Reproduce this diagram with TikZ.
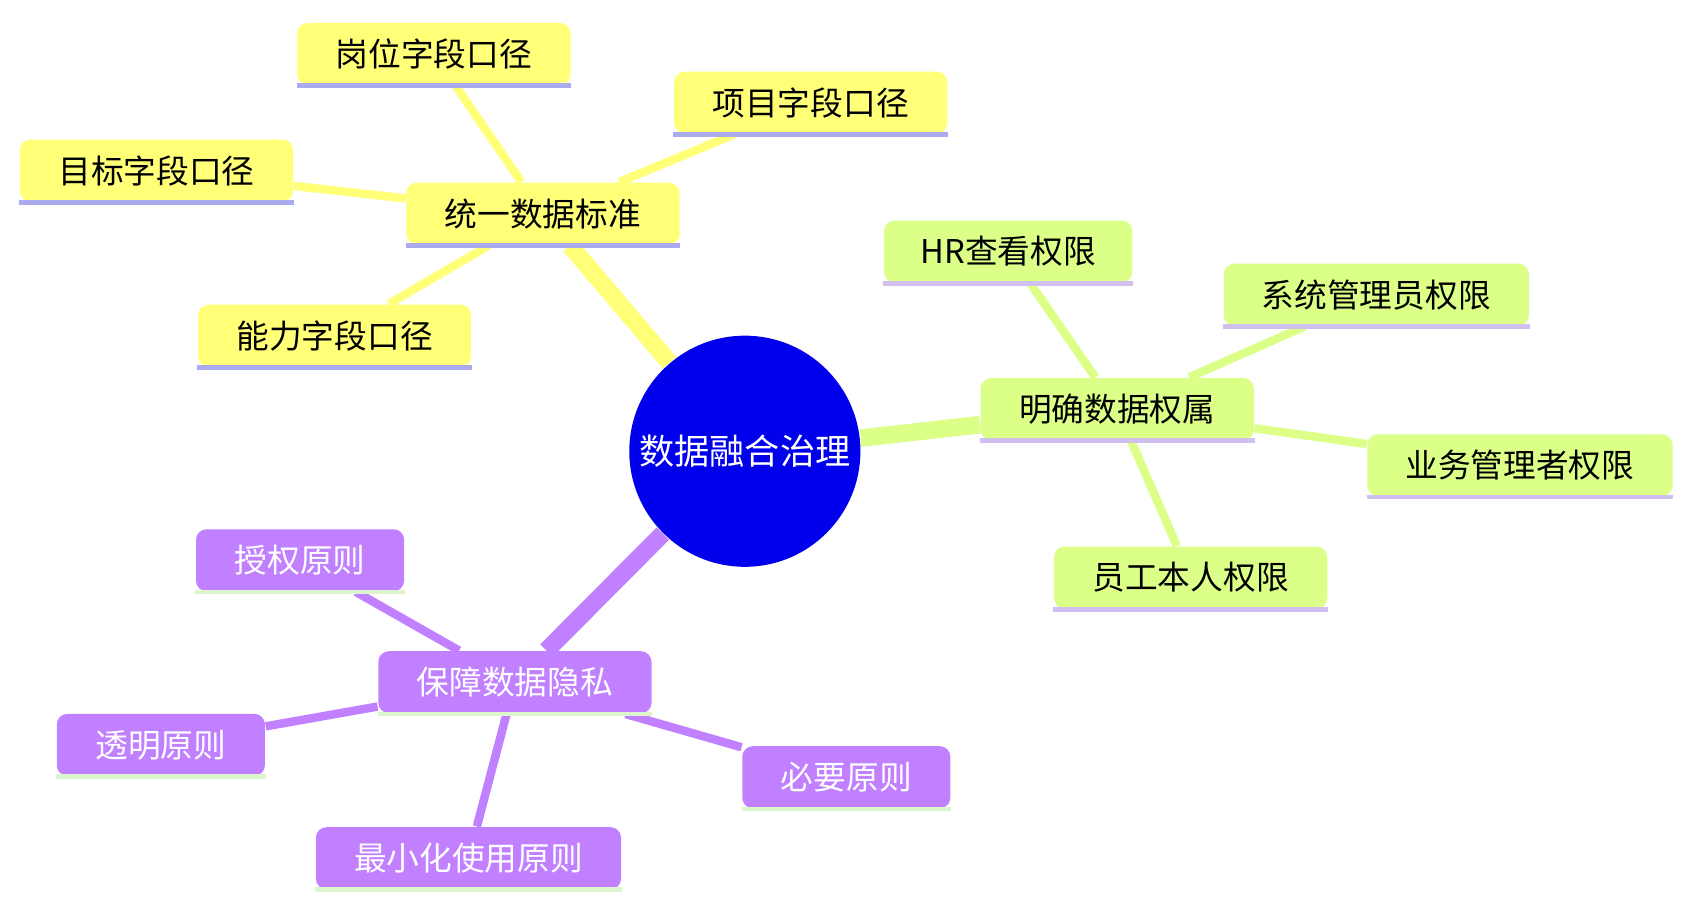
\documentclass[tikz,border=0pt]{standalone}
\usepackage{fontspec}
\setmainfont{Noto Sans CJK SC}
\usetikzlibrary{backgrounds}
\definecolor{yel}{HTML}{FFFF78}
\definecolor{grn}{HTML}{DCFF88}
\definecolor{pur}{HTML}{C080FF}
\definecolor{lav}{HTML}{AAAAEE}
\definecolor{lavg}{HTML}{D0C0F0}
\definecolor{lgrn}{HTML}{DDF5CC}
\tikzset{
  leaf/.style={rounded corners=3pt, minimum height=0.62cm, inner sep=0pt, font=\fontsize{9.3}{11}\selectfont},
  yleaf/.style={leaf, fill=yel, text=black},
  gleaf/.style={leaf, fill=grn, text=black},
  pleaf/.style={leaf, fill=pur, text=white},
}
\begin{document}
\begin{tikzpicture}[x=0.010795cm, y=-0.010795cm]
\useasboundingbox (0,0) rectangle (1560,839);

\node[circle, fill=blue!93!black, text=white, minimum size=2.31cm, inner sep=0pt, font=\fontsize{10}{12}\selectfont] (root) at (690,418) {数据融合治理};

% yellow branch
\node[yleaf, minimum width=2.73cm] (std) at (503,198) {统一数据标准};
\node[yleaf, minimum width=2.73cm] (std1) at (402,50) {岗位字段口径};
\node[yleaf, minimum width=2.73cm] (std2) at (751,95) {项目字段口径};
\node[yleaf, minimum width=2.73cm] (std3) at (145,158) {目标字段口径};
\node[yleaf, minimum width=2.73cm] (std4) at (310,311) {能力字段口径};

% green branch
\node[gleaf, minimum width=2.73cm] (own) at (1035,379) {明确数据权属};
\node[gleaf, minimum width=2.48cm] (own1) at (934,233) {HR查看权限};
\node[gleaf, minimum width=3.05cm] (own2) at (1275,273) {系统管理员权限};
\node[gleaf, minimum width=3.05cm] (own3) at (1408,431) {业务管理者权限};
\node[gleaf, minimum width=2.73cm] (own4) at (1103,535) {员工本人权限};

% purple branch
\node[pleaf, minimum width=2.73cm] (prv) at (477,632) {保障数据隐私};
\node[pleaf, minimum width=2.08cm] (prv1) at (278,519) {授权原则};
\node[pleaf, minimum width=2.08cm] (prv2) at (149,690) {透明原则};
\node[pleaf, minimum width=2.08cm] (prv3) at (784,720) {必要原则};
\node[pleaf, minimum width=3.05cm] (prv4) at (434,795) {最小化使用原则};

% underlines
\foreach \n in {std,std1,std2,std3,std4}
  \draw[lav, line width=1.4pt] (\n.south west) -- (\n.south east);
\foreach \n in {own,own1,own2,own3,own4}
  \draw[lavg, line width=1.4pt] (\n.south west) -- (\n.south east);
\foreach \n in {prv,prv1,prv2,prv3,prv4}
  \draw[lgrn, line width=1.4pt] (\n.south west) -- (\n.south east);

\begin{scope}[on background layer]
\draw[yel, line width=5pt] (root) -- (std);
\draw[grn, line width=5pt] (root) -- (own);
\draw[pur, line width=5pt] (root) -- (prv);
\foreach \n in {std1,std2,std3,std4}
  \draw[yel, line width=2.4pt] (std) -- (\n);
\foreach \n in {own1,own2,own3,own4}
  \draw[grn, line width=2.4pt] (own) -- (\n);
\foreach \n in {prv1,prv2,prv3,prv4}
  \draw[pur, line width=2.4pt] (prv) -- (\n);
\end{scope}
\end{tikzpicture}
\end{document}
